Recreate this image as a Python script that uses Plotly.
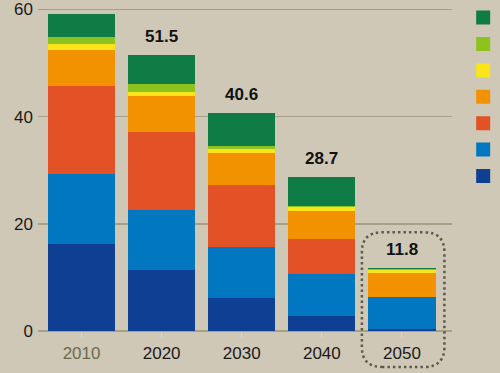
import plotly.graph_objects as go

# ---- data ----
years = ["2010", "2020", "2030", "2040", "2050"]
dark_blue = [16.2, 11.3, 6.1, 2.8, 0.3]
blue = [13.1, 11.3, 9.6, 7.9, 6.0]
red = [16.4, 14.6, 11.5, 6.4, 0.0]
orange = [6.8, 6.6, 6.0, 5.3, 4.6]
yellow = [1.0, 0.7, 0.7, 0.7, 0.4]
light_green = [1.4, 1.5, 0.6, 0.3, 0.2]
green = [4.2, 5.5, 6.1, 5.3, 0.3]
total_labels = ["", "51.5", "40.6", "28.7", "11.8"]
y_ticks = [0, 20, 40, 60]

series = [
    ("dark_blue", dark_blue, "#0f3f93"),
    ("blue", blue, "#0077c0"),
    ("red", red, "#e35126"),
    ("orange", orange, "#f39200"),
    ("yellow", yellow, "#f9e51a"),
    ("light_green", light_green, "#8dc21f"),
    ("green", green, "#0f7b45"),
]

BG = "#cfc8b7"
GRID = "#a6a086"
FONT = "Liberation Sans, Arial, sans-serif"

W, H = 500, 373
ML, MR, MT, MB = 38, 48, 4, 42
XR = [-0.544, 4.625]
YR = [0, 61]

x = list(range(len(years)))
fig = go.Figure()
for name, vals, col in series:
    fig.add_trace(go.Bar(x=x, y=vals, marker=dict(color=col, line=dict(width=0)),
                         showlegend=False, legendgroup=name, name=name,
                         hoverinfo="y"))
# legend proxies (square swatches)
for name, vals, col in series:
    fig.add_trace(go.Scatter(x=[None], y=[None], mode="markers",
                             marker=dict(symbol="square", size=14, color=col),
                             legendgroup=name, name=" ", showlegend=True))

totals = [sum(v) for v in zip(*[s[1] for s in series])]
for i, (t, lab) in enumerate(zip(totals, total_labels)):
    if lab:
        fig.add_annotation(x=i, y=t, text="<b>%s</b>" % lab, showarrow=False,
                           yanchor="bottom", yshift=7,
                           font=dict(size=17, color="#111", family=FONT))

# dotted rounded box around the last bar (paper coords computed from data)
plot_w = W - ML - MR
plot_h = H - MT - MB

def xp(v):
    return (v - XR[0]) / (XR[1] - XR[0])

def yp(v):
    return (v - YR[0]) / (YR[1] - YR[0])

last = len(years) - 1
x0, x1 = xp(last - 0.5), xp(last + 0.53)
y0, y1 = yp(-6.7), yp(totals[last] + 6.6)
rx, ry = 20 / plot_w, 20 / plot_h
path = (f"M{x0+rx},{y0} L{x1-rx},{y0} Q{x1},{y0} {x1},{y0+ry} "
        f"L{x1},{y1-ry} Q{x1},{y1} {x1-rx},{y1} L{x0+rx},{y1} "
        f"Q{x0},{y1} {x0},{y1-ry} L{x0},{y0+ry} Q{x0},{y0} {x0+rx},{y0} Z")
fig.add_shape(type="path", path=path, xref="paper", yref="paper",
              line=dict(color="#5c5a4c", width=2.5, dash="2.5px,3px"))

ticktext = ["<span style='color:#6b6b4c'>%s</span>" % years[0]] + years[1:]

fig.update_layout(
    width=W, height=H,
    margin=dict(l=ML, r=MR, t=MT, b=MB, autoexpand=False),
    paper_bgcolor=BG, plot_bgcolor=BG,
    barmode="stack", bargap=0.16,
    font=dict(family=FONT, size=17, color="#1a1a1a"),
    xaxis=dict(range=XR, tickvals=x, ticktext=ticktext, showgrid=False,
               zeroline=False, showline=False, ticks="outside", ticklen=6,
               tickcolor="#dcd6c8", tickwidth=1, ticklabelstandoff=1,
               fixedrange=True),
    yaxis=dict(range=YR, tickvals=y_ticks, showgrid=True, gridcolor=GRID,
               gridwidth=1.5, zeroline=True, zerolinecolor=GRID, zerolinewidth=1.5,
               showline=False, ticks="", ticklabelstandoff=4, fixedrange=True),
    legend=dict(x=1.027, xanchor="left", y=1.014, yanchor="top",
                traceorder="reversed", font=dict(size=18),
                bgcolor="rgba(0,0,0,0)", itemclick=False),
    showlegend=True,
)

fig.write_html("out.html",
               config={"displayModeBar": False, "staticPlot": True},
               post_script="document.body.style.margin='0';"
                           "document.body.style.background='%s';" % BG)
